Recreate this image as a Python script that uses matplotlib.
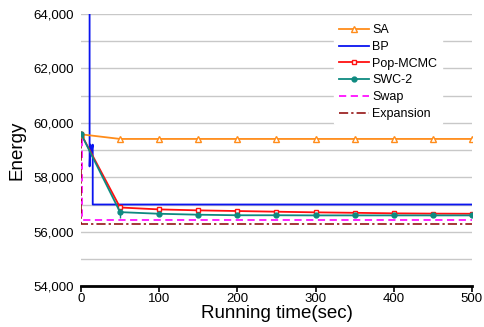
import matplotlib
matplotlib.use("Agg")
import matplotlib.pyplot as plt

plt.rcParams['font.family'] = ['Liberation Sans', 'DejaVu Sans']

t_marks = [0, 50, 100, 150, 200, 250, 300, 350, 400, 450, 500]
sa = [59580, 59410, 59410, 59410, 59410, 59410, 59410, 59410, 59410, 59410, 59410]
pop = [59600, 56890, 56820, 56785, 56760, 56735, 56712, 56695, 56675, 56665, 56660]
swc = [59600, 56720, 56660, 56625, 56605, 56605, 56600, 56600, 56600, 56600, 56600]
swc_err_low = [0, 230, 30, 30, 30, 30, 30, 30, 30, 30, 30]

bp_t = [11, 11, 12, 13, 15, 15, 500]
bp_e = [66000, 58400, 59200, 58800, 59200, 57000, 57000]
swap_t = [1, 1, 500]
swap_e = [59400, 56430, 56430]
exp_t = [0, 0, 500]
exp_e = [59600, 56280, 56280]

fig = plt.figure(figsize=(4.85, 3.27), dpi=100)
ax = fig.add_axes([0.167, 0.125, 0.806, 0.832])

h_sa, = ax.plot(t_marks, sa, color='#ff8c1a', lw=1.3, marker='^', ms=4, mfc='white', mew=1, label='SA', zorder=5)
h_bp, = ax.plot(bp_t, bp_e, color='#0a14f0', lw=1.3, label='BP', zorder=4)
h_pop, = ax.plot(t_marks, pop, color='#ff1010', lw=1.3, marker='s', ms=3.5, mfc='white', mew=1, label='Pop-MCMC', zorder=5)
ax.errorbar(t_marks, swc, yerr=[swc_err_low, [0]*len(swc)], color='#0e8a80', lw=0,
            elinewidth=1, fmt='none', zorder=6)
h_swc, = ax.plot(t_marks, swc, color='#0e8a80', lw=1.3, marker='o', ms=3.5, label='SWC-2', zorder=6)
h_swap, = ax.plot(swap_t, swap_e, color='#ff10ff', lw=1.3, ls=(0, (4, 2.5)), label='Swap', zorder=3)
h_exp, = ax.plot(exp_t, exp_e, color='#8b0000', lw=1.1, ls=(0, (6, 2, 1.5, 2)), label='Expansion', zorder=3)

ax.set_xlim(0, 500)
ax.set_ylim(54000, 64000)
ax.set_xticks([0, 100, 200, 300, 400, 500])
ax.set_yticks(range(54000, 64001, 2000))
ax.set_yticks(range(54000, 64001, 1000), minor=True)
ax.set_yticklabels([f"{v:,}" for v in range(54000, 64001, 2000)])
ax.tick_params(axis='y', which='both', length=0, labelsize=9.5, pad=5)
ax.tick_params(axis='x', length=4, width=1.2, labelsize=9.5, pad=1, direction='out')
ax.grid(axis='y', which='both', color='#c8c8c8', lw=1)
ax.set_axisbelow(True)
for s in ['top', 'right', 'left']:
    ax.spines[s].set_visible(False)
ax.spines['bottom'].set_linewidth(2)

ax.set_xlabel('Running time(sec)', fontsize=13.5, labelpad=0)
ax.set_ylabel('Energy', fontsize=13.5, labelpad=6)

leg = ax.legend(handles=[h_sa, h_bp, h_pop, h_swc, h_swap, h_exp],
                loc='upper right', bbox_to_anchor=(0.94, 1.004), frameon=True, fontsize=9,
                handlelength=2.4, handletextpad=0.25, labelspacing=0.38, borderpad=0.4)
leg.get_frame().set_edgecolor('white')
leg.get_frame().set_facecolor('white')
leg.get_frame().set_alpha(1)

fig.savefig('out.png', dpi=100)
